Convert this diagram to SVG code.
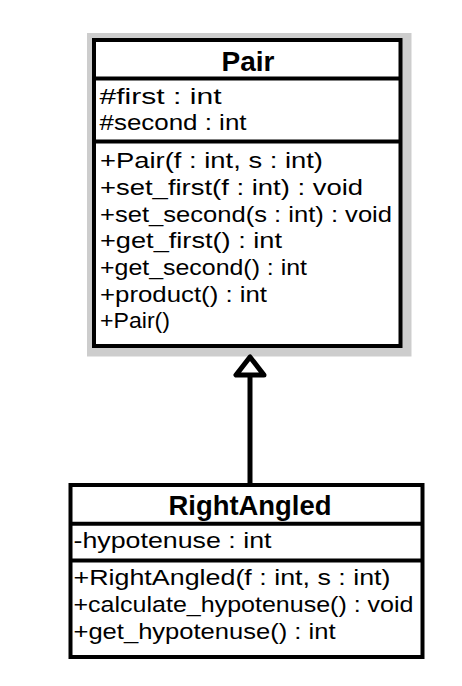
<svg xmlns="http://www.w3.org/2000/svg" width="462" height="686" viewBox="0 0 462 686">
  <style>
    .box { fill: #ffffff; stroke: #000000; stroke-width: 4; }
    .div { stroke: #000000; stroke-width: 4; }
    .title { font-family: "Liberation Sans", Arial, sans-serif; font-weight: bold; font-size: 28px; fill: #000; }
    .t { font-family: "Liberation Sans", Arial, sans-serif; font-size: 22px; fill: #000; }
    .edge { stroke: #000; stroke-width: 5; fill: none; }
    .head { fill: #ffffff; stroke: #000; stroke-width: 5; stroke-linejoin: round; }
  </style>
  <rect x="0" y="0" width="462" height="686" fill="#ffffff"/>
  <g id="Pair">
    <rect x="87" y="33" width="324.5" height="323.5" fill="#cdcdcd"/>
    <rect class="box" x="94" y="40" width="306.5" height="306"/>
    <line class="div" x1="94" y1="78.5" x2="400.5" y2="78.5"/>
    <line class="div" x1="94" y1="141.5" x2="400.5" y2="141.5"/>
    <text class="title" x="248" y="71" text-anchor="middle" textLength="53" lengthAdjust="spacingAndGlyphs">Pair</text>
    <text class="t" x="99.5" y="103.5" textLength="122" lengthAdjust="spacingAndGlyphs">#first : int</text>
    <text class="t" x="99.5" y="129.5" textLength="147" lengthAdjust="spacingAndGlyphs">#second : int</text>
    <text class="t" x="100" y="168" textLength="223" lengthAdjust="spacingAndGlyphs">+Pair(f : int, s : int)</text>
    <text class="t" x="100" y="195" textLength="263" lengthAdjust="spacingAndGlyphs">+set_first(f : int) : void</text>
    <text class="t" x="100" y="221.5" textLength="292" lengthAdjust="spacingAndGlyphs">+set_second(s : int) : void</text>
    <text class="t" x="100" y="248" textLength="182" lengthAdjust="spacingAndGlyphs">+get_first() : int</text>
    <text class="t" x="100" y="275" textLength="207" lengthAdjust="spacingAndGlyphs">+get_second() : int</text>
    <text class="t" x="100" y="301.5" textLength="167" lengthAdjust="spacingAndGlyphs">+product() : int</text>
    <text class="t" x="100" y="328" textLength="70" lengthAdjust="spacingAndGlyphs">+Pair()</text>
  </g>
  <g id="RightAngled">
    <rect class="box" x="70.5" y="485" width="352" height="172"/>
    <line class="div" x1="70.5" y1="523.7" x2="422.5" y2="523.7"/>
    <line class="div" x1="70.5" y1="560.5" x2="422.5" y2="560.5"/>
    <text class="title" x="250" y="515" text-anchor="middle" font-size="27" textLength="163" lengthAdjust="spacingAndGlyphs">RightAngled</text>
    <text class="t" x="73.5" y="548" textLength="198" lengthAdjust="spacingAndGlyphs">-hypotenuse : int</text>
    <text class="t" x="73.5" y="585" textLength="317" lengthAdjust="spacingAndGlyphs">+RightAngled(f : int, s : int)</text>
    <text class="t" x="73.5" y="611.7" textLength="340" lengthAdjust="spacingAndGlyphs">+calculate_hypotenuse() : void</text>
    <text class="t" x="73.5" y="638.5" textLength="262" lengthAdjust="spacingAndGlyphs">+get_hypotenuse() : int</text>
  </g>
  <g id="connectors">
    <line class="edge" x1="250" y1="377" x2="250" y2="483"/>
    <polygon class="head" points="250,357 236,375 264,375"/>
  </g>
</svg>
